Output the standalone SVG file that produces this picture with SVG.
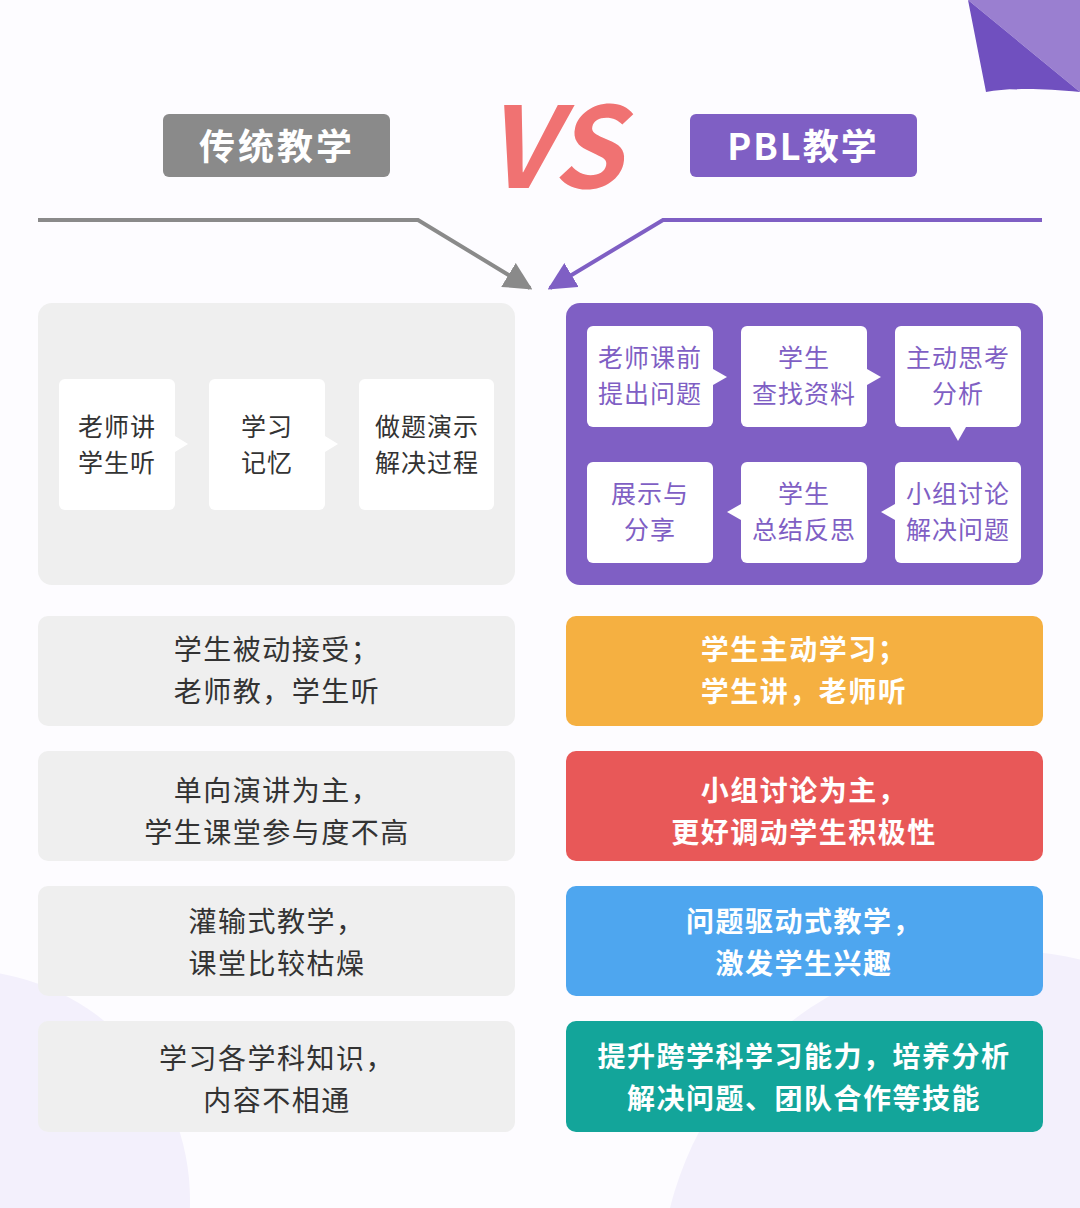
<svg xmlns="http://www.w3.org/2000/svg" width="1080" height="1208" viewBox="0 0 1080 1208">
<style>
text{font-family:"Noto Sans CJK SC","Noto Sans",sans-serif;text-anchor:middle}
.nl{font-size:25px;fill:#333;letter-spacing:1px}
.np{font-size:25px;fill:#7f5fc4;letter-spacing:1px}
.rl{font-size:28px;fill:#333;letter-spacing:1.5px}
.rr{font-size:28px;fill:#fff;font-weight:bold;letter-spacing:1.5px}
.box{fill:#fff}
</style>
<defs>
<marker id="ag" viewBox="0 0 10 10" refX="9" refY="5" markerWidth="7" markerHeight="7" orient="auto"><path d="M0,0L10,5L0,10z" fill="#8a8a8a"/></marker>
<marker id="ap" viewBox="0 0 10 10" refX="9" refY="5" markerWidth="7" markerHeight="7" orient="auto"><path d="M0,0L10,5L0,10z" fill="#7f5fc4"/></marker>
</defs>
<rect width="1080" height="1208" fill="#fdfcff"/>
<circle cx="-40" cy="1200" r="230" fill="#f3f0fc"/>
<circle cx="1000" cy="1290" r="340" fill="#f3f0fc"/>
<g id="corner">
<path d="M968,0L1080,0L1080,92Z" fill="#9a7fd0"/>
<path d="M968,0L1080,92C1040,88 1010,88 986,92Z" fill="#7050bf"/>
</g>
<g id="title-left"><rect x="163" y="114" width="227" height="63" rx="6" fill="#8a8a8a"/><text x="277" y="160" font-size="36" font-weight="bold" fill="#fff" letter-spacing="3">传统教学</text></g>
<text x="553" y="188" font-size="112" font-weight="bold" font-style="italic" fill="#f07272" font-family="Liberation Sans,sans-serif">VS</text>
<g id="title-right"><rect x="690" y="114" width="227" height="63" rx="6" fill="#7f5fc4"/><text x="803" y="160" font-size="36" font-weight="bold" fill="#fff" letter-spacing="2">PBL教学</text></g>
<g id="connectors" fill="none" stroke-width="4">
<path d="M38,220H418L530,288" stroke="#8a8a8a" marker-end="url(#ag)"/>
<path d="M1042,220H663L550,288" stroke="#7f5fc4" marker-end="url(#ap)"/>
</g>
<g id="left-panel">
<rect x="38" y="303" width="477" height="282" rx="14" fill="#efefef"/>
<rect class="box" x="59" y="379" width="116" height="131" rx="6"/><path d="M175,436L188,444L175,452Z" class="box"/>
<text class="nl" x="117" y="436">老师讲</text><text class="nl" x="117" y="472">学生听</text>
<rect class="box" x="209" y="379" width="116" height="131" rx="6"/><path d="M325,436L338,444L325,452Z" class="box"/>
<text class="nl" x="267" y="436">学习</text><text class="nl" x="267" y="472">记忆</text>
<rect class="box" x="359" y="379" width="135" height="131" rx="6"/>
<text class="nl" x="427" y="436">做题演示</text><text class="nl" x="427" y="472">解决过程</text>
</g>
<g id="right-panel">
<rect x="566" y="303" width="477" height="282" rx="14" fill="#7f5fc4"/>
<rect class="box" x="587" y="326" width="126" height="101" rx="6"/><path d="M713,369L727,377L713,385Z" class="box"/>
<text class="np" x="650" y="367">老师课前</text><text class="np" x="650" y="403">提出问题</text>
<rect class="box" x="741" y="326" width="126" height="101" rx="6"/><path d="M867,369L881,377L867,385Z" class="box"/>
<text class="np" x="804" y="367">学生</text><text class="np" x="804" y="403">查找资料</text>
<rect class="box" x="895" y="326" width="126" height="101" rx="6"/><path d="M950,427L958,441L966,427Z" class="box"/>
<text class="np" x="958" y="367">主动思考</text><text class="np" x="958" y="403">分析</text>
<rect class="box" x="587" y="462" width="126" height="101" rx="6"/>
<text class="np" x="650" y="503">展示与</text><text class="np" x="650" y="539">分享</text>
<rect class="box" x="741" y="462" width="126" height="101" rx="6"/><path d="M741,504L727,512L741,520Z" class="box"/>
<text class="np" x="804" y="503">学生</text><text class="np" x="804" y="539">总结反思</text>
<rect class="box" x="895" y="462" width="126" height="101" rx="6"/><path d="M895,504L881,512L895,520Z" class="box"/>
<text class="np" x="958" y="503">小组讨论</text><text class="np" x="958" y="539">解决问题</text>
</g>
<g id="row1"><rect x="38" y="616" width="477" height="110" rx="10" fill="#efefef"/><text class="rl" x="277" y="660">学生被动接受；</text><text class="rl" x="277" y="702">老师教，学生听</text>
<rect x="566" y="616" width="477" height="110" rx="10" fill="#f5b041"/><text class="rr" x="804" y="660">学生主动学习；</text><text class="rr" x="804" y="702">学生讲，老师听</text></g>
<g id="row2"><rect x="38" y="751" width="477" height="110" rx="10" fill="#efefef"/><text class="rl" x="277" y="801">单向演讲为主，</text><text class="rl" x="277" y="843">学生课堂参与度不高</text>
<rect x="566" y="751" width="477" height="110" rx="10" fill="#e85858"/><text class="rr" x="804" y="801">小组讨论为主，</text><text class="rr" x="804" y="843">更好调动学生积极性</text></g>
<g id="row3"><rect x="38" y="886" width="477" height="110" rx="10" fill="#efefef"/><text class="rl" x="277" y="932">灌输式教学，</text><text class="rl" x="277" y="974">课堂比较枯燥</text>
<rect x="566" y="886" width="477" height="110" rx="10" fill="#4ea6ef"/><text class="rr" x="804" y="932">问题驱动式教学，</text><text class="rr" x="804" y="974">激发学生兴趣</text></g>
<g id="row4"><rect x="38" y="1021" width="477" height="111" rx="10" fill="#efefef"/><text class="rl" x="277" y="1069">学习各学科知识，</text><text class="rl" x="277" y="1111">内容不相通</text>
<rect x="566" y="1021" width="477" height="111" rx="10" fill="#13a59a"/><text class="rr" x="804" y="1067">提升跨学科学习能力，培养分析</text><text class="rr" x="804" y="1109">解决问题、团队合作等技能</text></g>
</svg>
